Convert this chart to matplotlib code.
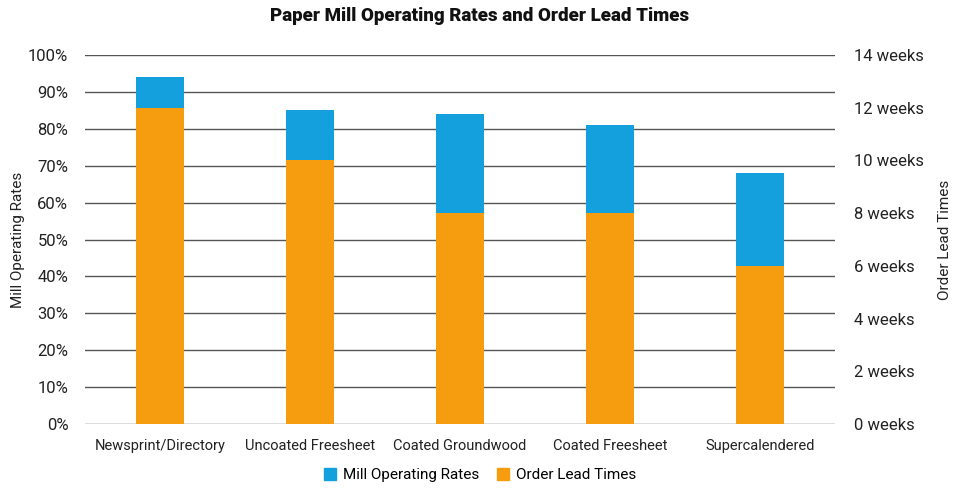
import matplotlib.pyplot as plt
import numpy as np
from matplotlib.ticker import FuncFormatter
from matplotlib.patches import Patch

categories = ["Newsprint/Directory", "Uncoated Freesheet", "Coated Groundwood",
              "Coated Freesheet", "Supercalendered"]
operating_rates = [94, 85, 84, 81, 68]   # percent
lead_times = [12, 10, 8, 8, 6]           # weeks

blue = "#149FDD"
orange = "#F59D0E"
grid_col = "#555555"
text_col = "#222222"

plt.rcParams['font.family'] = ['Roboto', 'DejaVu Sans']

fig = plt.figure(figsize=(9.6, 4.96), dpi=100)
ax = fig.add_axes([0.0885, 0.145, 0.781, 0.744])
ax2 = ax.twinx()

x = np.arange(len(categories))
w = 0.32

ax.bar(x, operating_rates, width=w, color=blue, zorder=2)
ax2.bar(x, lead_times, width=w, color=orange, zorder=2)

ax.set_ylim(0, 100)
ax.set_yticks(np.arange(0, 101, 10))
ax.yaxis.set_major_formatter(FuncFormatter(lambda v, p: f"{v:.0f}%"))
ax2.set_ylim(0, 14)
ax2.set_yticks(np.arange(0, 15, 2))
ax2.yaxis.set_major_formatter(FuncFormatter(lambda v, p: f"{v:.0f} weeks"))

ax.set_xlim(-0.5, len(categories) - 0.5)
ax.set_xticks(x)
ax.set_xticklabels(categories)

ax.set_axisbelow(True)
ax.grid(axis='y', color=grid_col, linewidth=1, zorder=0)
for a in (ax, ax2):
    for s in a.spines.values():
        s.set_visible(False)
    a.tick_params(length=0, colors=text_col)

ax.tick_params(axis='y', labelsize=12, pad=12)
ax2.tick_params(axis='y', labelsize=12, pad=14)
ax.tick_params(axis='x', labelsize=10.5, pad=10.5)

ax.set_ylabel("Mill Operating Rates", fontsize=11, color=text_col, labelpad=2)
ax2.set_ylabel("Order Lead Times", fontsize=11, color=text_col, labelpad=10)

fig.suptitle("Paper Mill Operating Rates and Order Lead Times", x=0.5, y=0.985,
             fontsize=13.5, fontweight='black', color='#111111')

handles = [Patch(color=blue, label="Mill Operating Rates"),
           Patch(color=orange, label="Order Lead Times")]
fig.legend(handles=handles, loc='center', bbox_to_anchor=(0.5, 0.042), ncol=2,
           frameon=False, fontsize=11, handlelength=0.8, handleheight=0.8,
           handletextpad=0.4, columnspacing=1.2)

fig.savefig("out.png", dpi=100)
